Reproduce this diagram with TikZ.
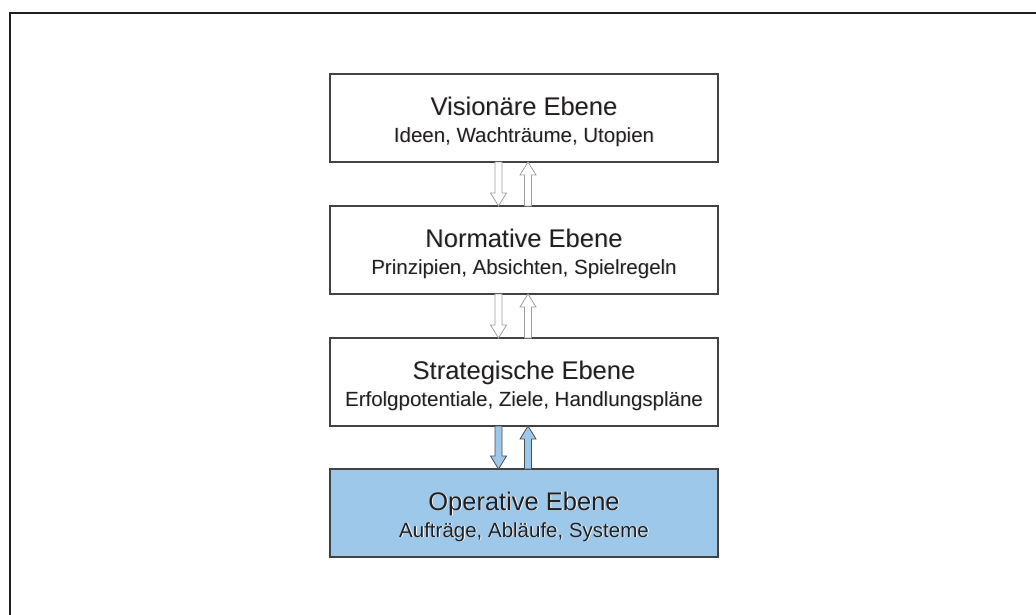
\documentclass[tikz,border=0pt]{standalone}
\usepackage{fontspec}
\setmainfont{Liberation Sans}
\usetikzlibrary{calc}
\definecolor{ink}{RGB}{35,31,32}
\definecolor{opblue}{RGB}{158,200,234}

% title and subtitle of one level box, with a faint offset shadow
\newcommand\leveltext[4]{%
  \node[leveltitle, text=#4] at ($(#1.north)+(0.9,41.9)$) {#2};
  \node[leveltitle] (#1-title) at ($(#1.north)+(0,41)$) {#2};
  \node[levelsub, text=#4] at ($(#1.north)+(0.9,68.9)$) {#3};
  \node[levelsub] (#1-sub) at ($(#1.north)+(0,68)$) {#3};
}

\begin{document}
\begin{tikzpicture}[x=1pt,y=-1pt,
  level/.style={draw=ink!85, line width=1.2pt, fill=white,
    minimum width=388pt, minimum height=88pt, inner sep=0pt, outer sep=0pt},
  oplevel/.style={level, fill=opblue},
  leveltitle/.style={anchor=base, inner sep=0pt, text=ink,
    font=\fontsize{25.5}{30}\selectfont},
  levelsub/.style={anchor=base, inner sep=0pt, text=ink,
    font=\fontsize{20.5}{24}\selectfont},
  blockarrow/.style={draw=gray!75, line width=0.8pt, fill=white, line join=miter,
    to path={let \p1=(\tikztostart), \p2=(\tikztotarget),
      \n1={ifthenelse(\y2<\y1,-1,1)} in
      (\x1-3.5pt,\y1) -- (\x1-3.5pt,{\y2-(\n1)*13pt})
      -- (\x1-8pt,{\y2-(\n1)*13pt}) -- (\x2,\y2)
      -- (\x1+8pt,{\y2-(\n1)*13pt}) -- (\x1+3.5pt,{\y2-(\n1)*13pt})
      -- (\x1+3.5pt,\y1) -- cycle}},
  blueblockarrow/.style={blockarrow, draw=ink!80, fill=opblue}
]
\useasboundingbox (0,0) rectangle (1036,614);

% outer frame, open to the right and bottom
\draw[ink, line width=2pt] (10,620) -- (10,13) -- (1042,13);

% the four levels
\node[level]   (vis) at (524,118) {};
\node[level]   (nor) at (524,250) {};
\node[level]   (str) at (524,382) {};
\node[oplevel] (ope) at (524,513) {};

\leveltext{vis}{Visionäre Ebene}{Ideen, Wachträume, Utopien}{gray!30}
\leveltext{nor}{Normative Ebene}{Prinzipien, Absichten, Spielregeln}{gray!30}
\leveltext{str}{Strategische Ebene}{Erfolgpotentiale, Ziele, Handlungspläne}{gray!30}
\leveltext{ope}{Operative Ebene}{Aufträge, Abläufe, Systeme}{white}

% downward and upward links between neighbouring levels
\draw[blockarrow] ($(vis.south)+(-25.5,0)$) to ($(nor.north)+(-25.5,0)$);
\draw[blockarrow] ($(nor.north)+(4,0)$) to ($(vis.south)+(4,0)$);
\draw[blockarrow] ($(nor.south)+(-25.5,0)$) to ($(str.north)+(-25.5,0)$);
\draw[blockarrow] ($(str.north)+(4,0)$) to ($(nor.south)+(4,0)$);
\draw[blueblockarrow] ($(str.south)+(-25.5,0)$) to ($(ope.north)+(-25.5,0)$);
\draw[blueblockarrow] ($(ope.north)+(4,0)$) to ($(str.south)+(4,0)$);
\end{tikzpicture}
\end{document}
